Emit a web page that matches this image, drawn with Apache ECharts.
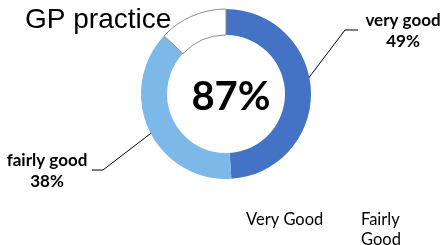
<!DOCTYPE html>
<html>
<head>
<meta charset="utf-8">
<script src="https://cdn.jsdelivr.net/npm/echarts@6/dist/echarts.min.js"></script>
<style>
  html, body { margin: 0; padding: 0; background: #fff; }
  #chart { width: 445px; height: 245px; }
</style>
</head>
<body>
<div id="chart"></div>
<script>
// 数据
const categories = ['very good', 'fairly good', 'other']
const legendNames = ['Very Good', 'Fairly\nGood']
const values = [49, 38, 13]
const colors = ['#4472c4', '#7cb8e8', '#ffffff']

const total = values[0] + values[1]
const font = 'Lato, "Open Sans", sans-serif'

const chart = echarts.init(document.getElementById('chart'))

// 标签位置 (label block centre + line points), by dataIndex
const labelSpots = [
  { x: 403, y: 31, line: [[298, 92], [345, 30], [358, 30]] },
  { x: 47, y: 171, line: [[163, 124], [103, 170], [92, 170]] }
]

const option = {
  animation: false,
  title: [
    {
      text: 'GP practice',
      left: 20,
      top: 1,
      textStyle: { fontFamily: '"Liberation Sans", Arial, sans-serif', fontSize: 28, fontWeight: 'normal', color: '#000' }
    },
    {
      text: total + '%',
      left: 226,
      top: 72,
      textAlign: 'center',
      textStyle: { fontFamily: font, fontSize: 40, fontWeight: 'bold', color: '#000' }
    }
  ],
  legend: [
    {
      data: [categories[0]],
      left: 236,
      top: 205,
      itemWidth: 0,
      itemHeight: 0,
      formatter: () => legendNames[0],
      textStyle: { fontFamily: font, fontSize: 16.5, color: '#000', lineHeight: 20 }
    },
    {
      data: [categories[1]],
      left: 351,
      top: 205,
      itemWidth: 0,
      itemHeight: 0,
      formatter: () => legendNames[1],
      textStyle: { fontFamily: font, fontSize: 16.5, color: '#000', lineHeight: 20 }
    }
  ],
  series: [
    {
      type: 'pie',
      center: [226, 94],
      radius: [59, 85],
      startAngle: 90,
      clockwise: true,
      data: categories.map((name, i) => ({
        name: name,
        value: values[i],
        itemStyle: i === 2 ? { color: colors[i], borderColor: '#8c8c8c', borderWidth: 1 } : { color: colors[i] },
        label: { show: i < 2 },
        labelLine: { show: i < 2 }
      })),
      label: {
        position: 'outside',
        formatter: '{b}\n{c}%',
        fontFamily: font,
        fontSize: 17,
        fontWeight: 'bold',
        color: '#000',
        lineHeight: 21,
        align: 'center',
        overflow: 'none',
        width: 120
      },
      labelLine: {
        lineStyle: { color: '#000', width: 1 }
      },
      labelLayout: function (params) {
        const s = labelSpots[params.dataIndex]
        if (!s) return {}
        return {
          x: s.x,
          y: s.y,
          align: 'center',
          verticalAlign: 'middle',
          labelLinePoints: s.line
        }
      },
      emphasis: { disabled: true }
    }
  ]
}

chart.setOption(option)
</script>
</body>
</html>
